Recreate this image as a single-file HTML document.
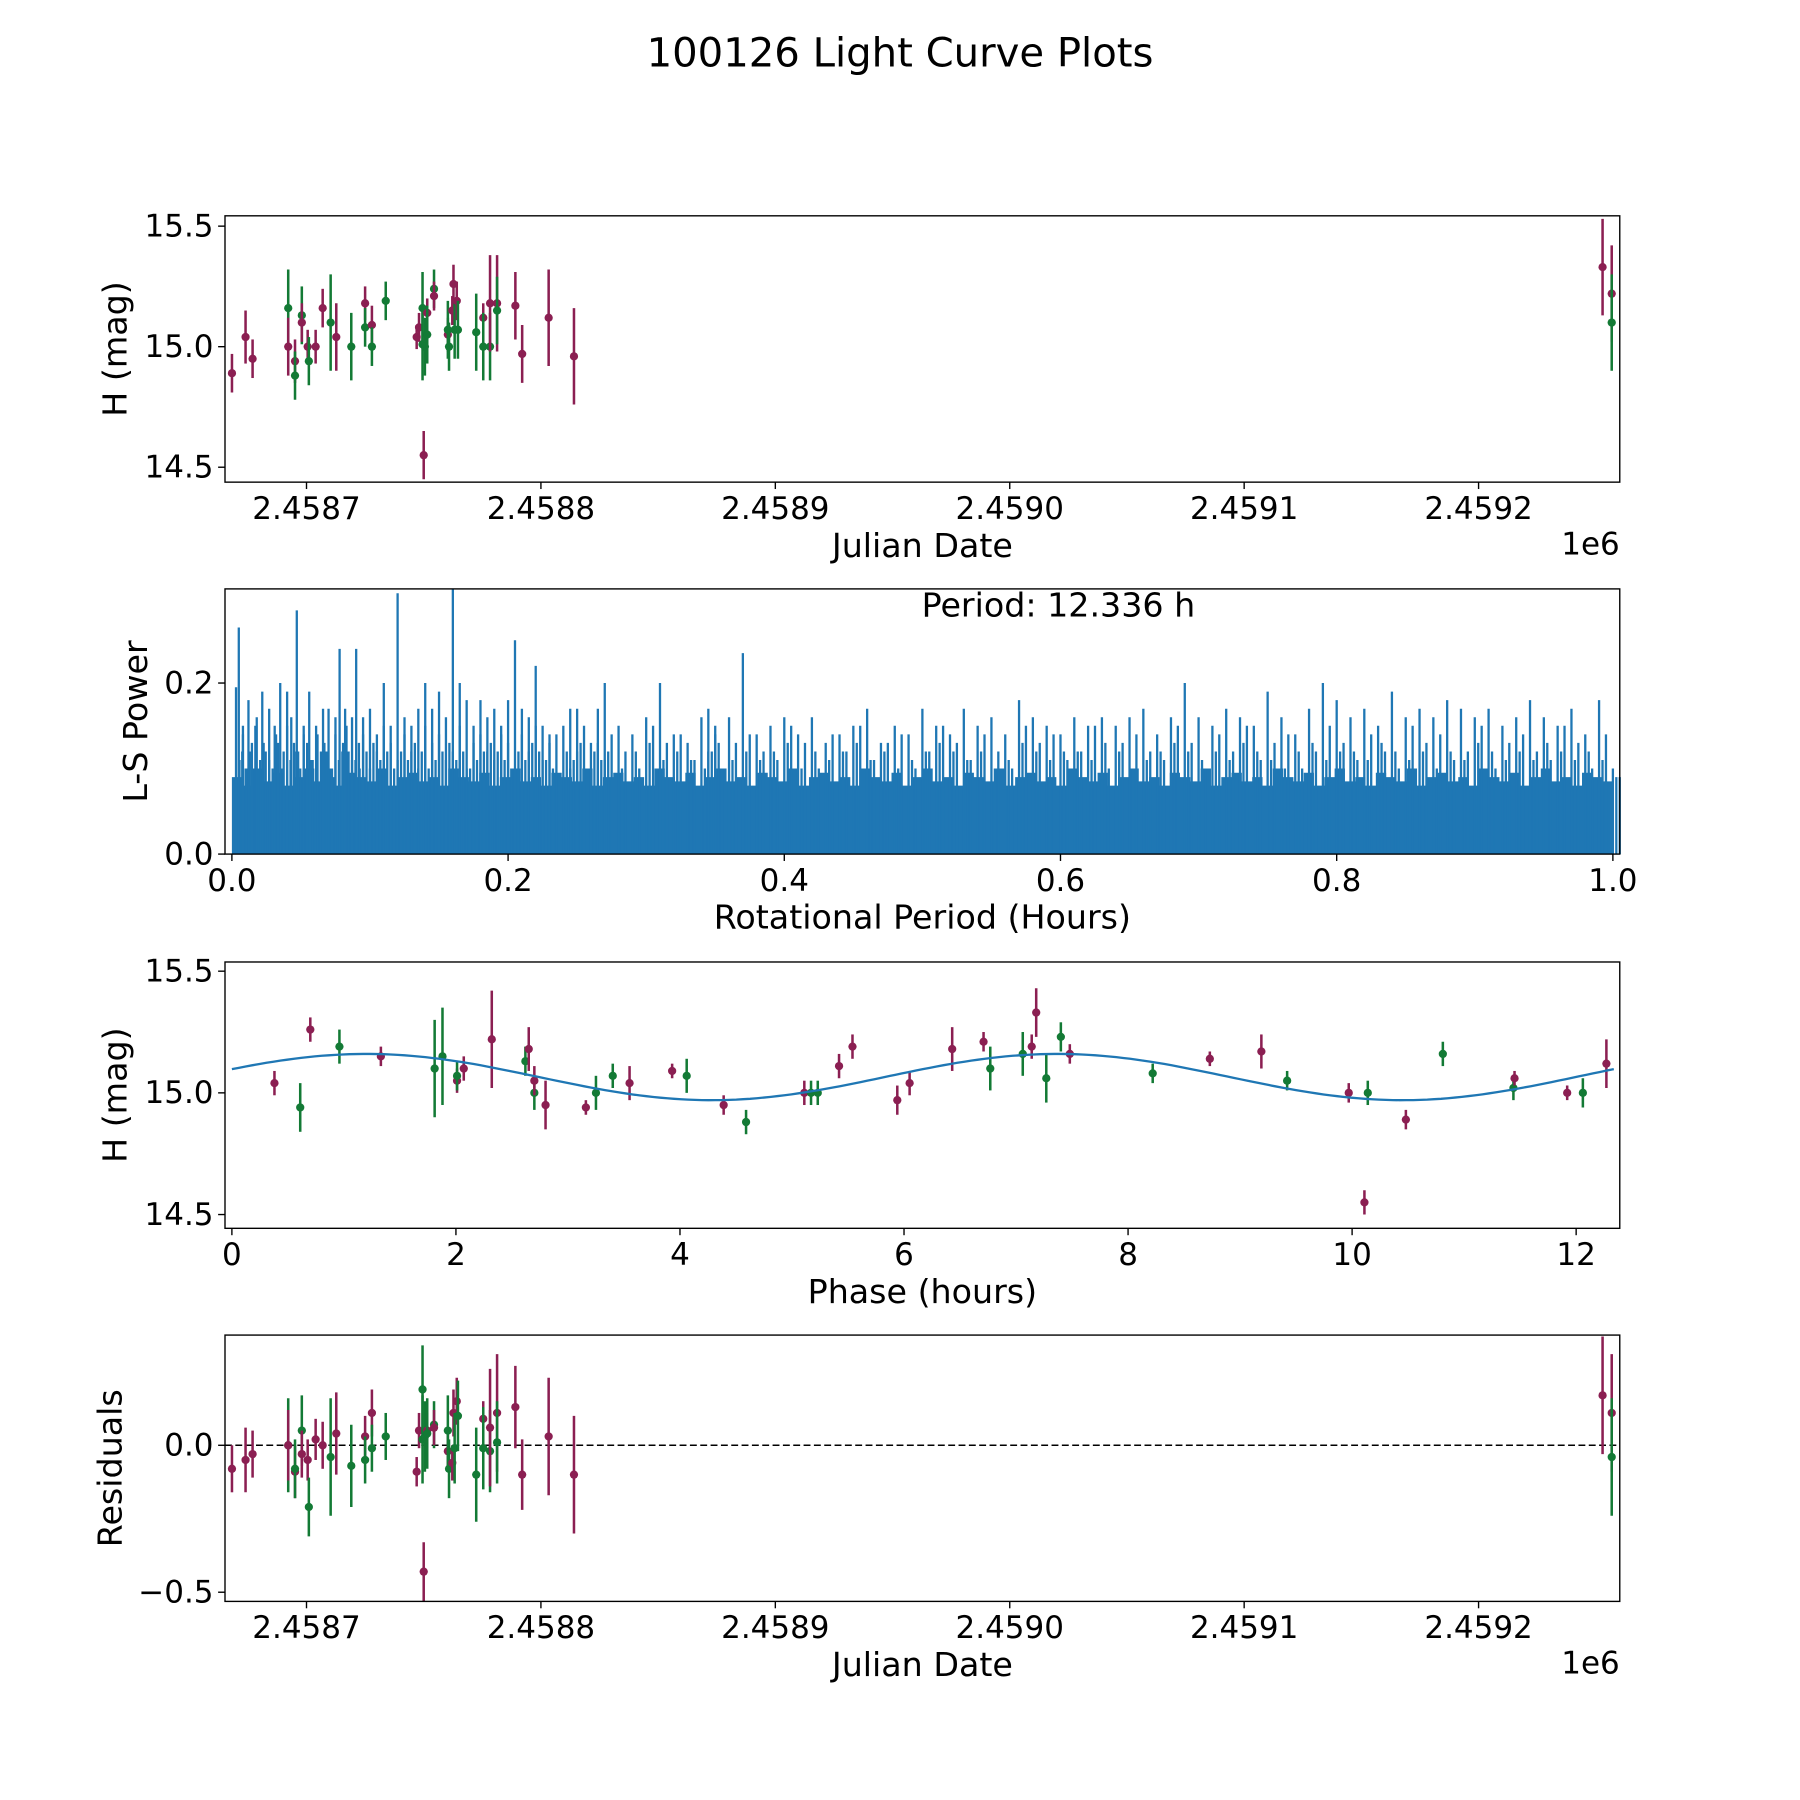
<!DOCTYPE html>
<html><head><meta charset="utf-8"><style>
html,body{margin:0;padding:0;background:#fff;}
svg{display:block;font-family:"DejaVu Sans","Liberation Sans",sans-serif;}
</style></head><body>
<svg id="fig" width="1800" height="1800" viewBox="0 0 1568 1568" xmlns="http://www.w3.org/2000/svg">
<rect width="1568" height="1568" fill="#fff"/>
<text x="784" y="58" font-size="35" text-anchor="middle">100126 Light Curve Plots</text>
<g id="p1"></g>
<g id="p2"></g>
<g id="p3"></g>
<g id="p4"></g>
</svg>
<script>
// ---- data ----
const jdDates=[2458668.2,2458674.0,2458677.0,2458692.2,2458692.2,2458695.1,2458695.1,2458698.0,2458698.0,2458700.5,2458701.0,2458703.9,2458706.9,2458710.3,2458712.7,2458719.1,2458725.0,2458725.0,2458727.9,2458727.9,2458733.8,2458747.0,2458748.0,2458750.0,2458749.5,2458749.5,2458750.5,2458751.5,2458751.5,2458754.4,2458754.4,2458760.3,2458760.3,2458760.8,2458762.2,2458762.7,2458763.2,2458764.1,2458764.6,2458772.4,2458775.4,2458775.4,2458778.3,2458778.3,2458781.3,2458781.3,2458789.1,2458792.0,2458803.3,2458814.1,2459252.9,2459256.8,2459256.8];
const jdMags=[14.89,15.04,14.95,15.16,15.00,14.94,14.88,15.13,15.10,15.00,14.94,15.00,15.16,15.10,15.04,15.00,15.18,15.08,15.09,15.00,15.19,15.04,15.08,14.55,15.16,15.01,15.00,15.14,15.05,15.24,15.21,15.05,15.07,15.00,15.15,15.26,15.07,15.19,15.07,15.06,15.12,15.00,15.00,15.18,15.18,15.15,15.17,14.97,15.12,14.96,15.33,15.22,15.10];
const jdErrs=[0.08,0.11,0.08,0.16,0.12,0.09,0.10,0.12,0.08,0.07,0.10,0.07,0.08,0.20,0.14,0.14,0.07,0.08,0.08,0.08,0.08,0.05,0.06,0.10,0.15,0.15,0.12,0.06,0.12,0.08,0.06,0.07,0.12,0.10,0.06,0.08,0.12,0.08,0.12,0.16,0.06,0.14,0.14,0.20,0.20,0.14,0.14,0.12,0.20,0.20,0.20,0.20,0.20];
const jdColors=["m","m","m","g","m","m","g","g","m","m","g","m","m","g","m","g","m","g","m","g","g","m","m","m","g","g","g","m","g","g","m","m","g","g","m","m","g","m","g","g","m","g","g","m","m","g","m","m","m","m","m","m","g"];
const residVals=[-0.08,-0.05,-0.03,0.00,0.00,-0.09,-0.08,0.05,-0.03,-0.05,-0.21,0.02,0.00,-0.04,0.04,-0.07,0.03,-0.05,0.11,-0.01,0.03,-0.09,0.05,-0.43,0.19,0.02,0.03,0.05,0.04,0.07,0.06,-0.02,0.05,-0.08,-0.06,0.11,-0.01,0.15,0.10,-0.10,0.09,-0.01,-0.02,0.06,0.11,0.01,0.13,-0.10,0.03,-0.10,0.17,0.11,-0.04];
const phaseVals=[0.38,0.61,0.70,0.96,1.33,1.81,1.88,2.01,2.01,2.07,2.32,2.62,2.65,2.70,2.70,2.80,3.16,3.25,3.40,3.55,3.93,4.06,4.39,4.59,5.11,5.17,5.23,5.42,5.54,5.94,6.05,6.43,6.71,6.77,7.06,7.14,7.18,7.27,7.40,7.48,8.22,8.73,9.19,9.42,9.97,10.11,10.14,10.48,10.81,11.44,11.45,11.92,12.06,12.27];
const phaseMags=[15.04,14.94,15.26,15.19,15.15,15.10,15.15,15.05,15.07,15.10,15.22,15.13,15.18,15.00,15.05,14.95,14.94,15.00,15.07,15.04,15.09,15.07,14.95,14.88,15.00,15.00,15.00,15.11,15.19,14.97,15.04,15.18,15.21,15.10,15.16,15.19,15.33,15.06,15.23,15.16,15.08,15.14,15.17,15.05,15.00,14.55,15.00,14.89,15.16,15.02,15.06,15.00,15.00,15.12];
const phaseErrs=[0.05,0.10,0.05,0.07,0.04,0.20,0.20,0.05,0.06,0.05,0.20,0.06,0.09,0.07,0.06,0.10,0.03,0.07,0.05,0.07,0.03,0.07,0.04,0.05,0.05,0.05,0.05,0.05,0.05,0.06,0.05,0.09,0.04,0.09,0.09,0.05,0.10,0.10,0.06,0.04,0.04,0.03,0.07,0.04,0.04,0.05,0.05,0.04,0.05,0.05,0.03,0.03,0.06,0.10];
const phaseColors=["m","g","m","g","m","g","g","m","g","m","m","g","m","g","m","m","m","g","g","m","m","g","m","g","m","g","g","m","m","m","m","m","m","g","g","m","m","g","g","m","g","m","m","g","m","m","g","m","g","g","m","m","g","m"];
const modelMean=15.065, modelAmp=0.095, modelPeriod=6.168, modelPeak=1.2;
const peakPeriods=[0.003,0.005,0.008,0.012,0.018,0.022,0.027,0.031,0.035,0.04,0.043,0.047,0.052,0.056,0.062,0.066,0.07,0.075,0.078,0.082,0.087,0.09,0.095,0.1,0.105,0.11,0.115,0.12,0.125,0.13,0.135,0.14,0.145,0.15,0.155,0.16,0.165,0.17,0.175,0.18,0.185,0.19,0.195,0.2,0.205,0.21,0.215,0.22,0.225,0.23,0.24,0.245,0.25,0.26,0.265,0.27,0.28,0.29,0.3,0.31,0.32,0.33,0.34,0.345,0.35,0.36,0.37,0.38,0.39,0.4,0.41,0.42,0.43,0.44,0.45,0.46,0.47,0.48,0.49,0.5,0.51,0.52,0.53,0.54,0.55,0.56,0.57,0.58,0.59,0.6,0.61,0.62,0.63,0.64,0.65,0.66,0.67,0.68,0.69,0.7,0.71,0.72,0.73,0.74,0.75,0.76,0.77,0.78,0.79,0.8,0.81,0.82,0.83,0.84,0.85,0.86,0.87,0.88,0.89,0.9,0.91,0.92,0.93,0.94,0.95,0.96,0.97,0.98,0.99,1.0];
const peakPowers=[.195,.265,.15,.18,.16,.19,.17,.15,.20,.19,.16,.285,.15,.19,.14,.17,.17,.16,.24,.17,.16,.24,.16,.17,.14,.20,.15,.305,.16,.15,.17,.20,.17,.19,.16,.31,.20,.18,.15,.18,.16,.17,.14,.18,.25,.17,.16,.22,.15,.14,.15,.17,.17,.13,.17,.20,.15,.14,.16,.20,.14,.13,.16,.17,.14,.16,.235,.14,.15,.16,.14,.16,.13,.14,.15,.17,.13,.15,.14,.17,.15,.14,.17,.15,.16,.14,.18,.16,.15,.14,.16,.15,.16,.15,.16,.17,.14,.16,.20,.16,.15,.17,.16,.15,.19,.16,.14,.17,.20,.18,.16,.17,.15,.19,.16,.17,.16,.18,.17,.16,.17,.15,.16,.18,.16,.15,.17,.14,.18,.10];
const midPowers=[.11,.12,.10,.13,.11,.12,.10,.13,.12,.11,.12,.10,.13,.11,.12,.12,.10,.11,.13,.12,.11,.10,.12,.13,.11,.12,.10,.12,.11,.13,.12,.10,.11,.12,.13,.11,.12,.10,.11,.12,.13,.12,.11,.10,.12,.11,.13,.12,.11,.10,.12,.11,.13,.12,.11,.12,.10,.12,.13,.11,.12,.11,.10,.12,.13,.11,.12,.11,.12,.13,.10,.12,.11,.12,.13,.11,.12,.10,.11,.12,.13,.12,.11,.12,.10,.11,.13,.12,.11,.12,.12,.11,.13,.12,.10,.11,.12,.13,.12,.11,.12,.11,.13,.12,.11,.10,.12,.13,.11,.12,.12,.11,.13,.12,.11,.12,.10,.12,.11,.13,.12,.11,.12,.11,.13,.12,.11,.12,.11,.09];
const lowPowers=[.14,.10,.12,.15,.13,.11,.14,.10,.15,.13,.12,.14,.11,.15,.13,.10,.14,.12,.15,.11,.13,.14,.10,.12,.15,.13,.11,.14,.12,.10,.15,.13,.14,.11,.12,.15,.10,.13,.14,.12,.11,.15,.13,.10,.14,.12,.15,.11,.13,.14,.10,.12,.15,.13,.11,.14,.12,.10,.15,.13,.14,.11,.12,.15,.10,.13,.14,.12,.11,.15,.13,.10,.14,.12,.15,.11,.13,.14,.10,.12,.15,.13,.11,.14,.12,.10,.15,.13,.14,.11,.12,.15,.10,.13,.14,.12,.11,.15,.13,.10,.14,.12,.15,.11,.13,.14,.10,.12,.15,.13,.11,.14,.12,.10,.15,.13,.14,.11,.12,.15,.10,.13,.14,.12,.11,.15,.13,.10,.14,.09];
const bandPowers=[.09,.08,.10,.085,.095,.08,.09,.10,.085,.09,.08,.095,.09,.085,.10,.08,.09,.095,.085,.09,.08,.10,.09,.085,.095,.08,.09,.10,.085,.09,.08,.095,.09,.085,.10,.08,.09,.095,.085,.09,.08,.10,.09,.085,.095,.08,.09,.10,.085,.09,.08,.095,.09,.085,.10,.08,.09,.095,.085,.09,.08,.10,.09,.085,.095,.08,.09,.10,.085,.09,.08,.095,.09,.085,.10,.08,.09,.095,.085,.09,.08,.10,.09,.085,.095,.08,.09,.10,.085,.09,.08,.095,.09,.085,.10,.08,.09,.095,.085,.09,.08,.10,.09,.085,.095,.08,.09,.10,.085,.09,.08,.095,.09,.085,.10,.08,.09,.095,.085,.09,.08,.10,.09,.085,.095,.08,.09,.10,.085,.09,.08,.095,.09,.085];
const jdTicks=[2458700,2458800,2458900,2459000,2459100,2459200];
const jdTickLabels=["2.4587","2.4588","2.4589","2.4590","2.4591","2.4592"];
const magTicks=[15.5,15.0,14.5];
const magTickLabels=["15.5","15.0","14.5"];
const lsXTicks=[0,0.2,0.4,0.6,0.8,1.0];
const lsXTickLabels=["0.0","0.2","0.4","0.6","0.8","1.0"];
const lsYTicks=[0,0.2];
const lsYTickLabels=["0.0","0.2"];
const phTicks=[0,2,4,6,8,10,12];
const phTickLabels=["0","2","4","6","8","10","12"];
const resTicks=[0,-0.5];
const resTickLabels=["0.0","\u22120.5"];

const NS="http://www.w3.org/2000/svg";
const COL={m:"#8b1f52",g:"#137a35"};
function mk(parent,tag,attrs,text){const e=document.createElementNS(NS,tag);for(const k in attrs)e.setAttribute(k,attrs[k]);if(text!==undefined)e.textContent=text;parent.appendChild(e);return e;}
function lin(d0,d1,r0,r1){return v=>r0+(v-d0)/(d1-d0)*(r1-r0);}
const L=196,R=1411;
const TF=27, AF=29;

function axesFrame(g,top,bot,sx,sy,xt,xtl,yt,ytl,xlab,ylab,ylabX,offset){
  for(let i=0;i<xt.length;i++){const x=sx(xt[i]);
    const t=mk(g,"line",{x1:x,x2:x,y1:bot,y2:bot+6,stroke:"#000","stroke-width":1.2});
    
    
    const l=mk(g,"text",{x:x,y:bot+32,"font-size":TF,"text-anchor":"middle"},xtl[i]);
    
    }
  for(let i=0;i<yt.length;i++){const y=sy(yt[i]);
    const t=mk(g,"line",{x1:L-6,x2:L,y1:y,y2:y,stroke:"#000","stroke-width":1.2});
    
    
    const l=mk(g,"text",{x:L-10,y:y+9,"font-size":TF,"text-anchor":"end"},ytl[i]);
    
    }
  const fr=mk(g,"rect",{x:L,y:top,width:R-L,height:bot-top,fill:"none",stroke:"#000","stroke-width":1.2});
  
  
  const xl=mk(g,"text",{x:(L+R)/2,y:bot+65,"font-size":AF,"text-anchor":"middle"},xlab);
  
  
  const cy=(top+bot)/2;
  const yl=mk(g,"text",{x:ylabX,y:cy,"font-size":AF,"text-anchor":"middle",transform:`rotate(-90 ${ylabX} ${cy})`},ylab);
  
  
  if(offset){const o=mk(g,"text",{x:R,y:bot+63,"font-size":TF,"text-anchor":"end"},offset);
    
    }
}
let clipN=0;
function errPoints(g,xs,ys,es,cs,sx,sy,top,bot){
  const cp="clip"+(clipN++);
  const d=mk(g,"clipPath",{id:cp});mk(d,"rect",{x:L,y:top,width:R-L,height:bot-top});
  const gg=mk(g,"g",{"clip-path":`url(#${cp})`});
  for(let i=0;i<xs.length;i++){const x=sx(xs[i]),c=COL[cs[i]];
    const b=mk(gg,"line",{x1:x,x2:x,y1:sy(ys[i]-es[i]),y2:sy(ys[i]+es[i]),stroke:c,"stroke-width":2.2});
    
    
    const p=mk(gg,"circle",{cx:x,cy:sy(ys[i]),r:3.6,fill:c});
    
    }
}

// Panel 1
(function(){const g=document.getElementById('p1');const top=188,bot=420;
 const sx=lin(2458700,2458800,267,471.2), sy=lin(15.0,15.5,302,197);
 errPoints(g,jdDates,jdMags,jdErrs,jdColors,sx,sy,top,bot);
 axesFrame(g,top,bot,sx,sy,jdTicks,jdTickLabels,magTicks,magTickLabels,"Julian Date","H (mag)",110,"1e6");})();

// Panel 2
(function(){const g=document.getElementById('p2');const top=513,bot=744;
 const sx=lin(0,1,202,1405), sy=lin(0,0.2,744,595);
 const blue="#1f77b4";
 let d="M"+sx(0)+","+sy(0);
 for(let i=0;i<bandPowers.length;i++){const x0=sx(i/bandPowers.length),x1=sx((i+1)/bandPowers.length);d+=`L${x0.toFixed(1)},${sy(bandPowers[i]).toFixed(1)}L${x1.toFixed(1)},${sy(bandPowers[i]).toFixed(1)}`;}
 d+="L"+sx(1)+","+sy(0)+"Z";
 const band=mk(g,"path",{d:d,fill:blue});
 
 
 for(let i=0;i<peakPeriods.length;i++){
   const x=sx(peakPeriods[i]);
   const s=mk(g,"line",{x1:x,x2:x,y1:sy(0),y2:sy(peakPowers[i]),stroke:blue,"stroke-width":2});
   
   
   const x2=x+3;
   const m=mk(g,"line",{x1:x2,x2:x2,y1:sy(0),y2:sy(midPowers[i]),stroke:blue,"stroke-width":2});
   
   
   const x3=x+6;
   const n=mk(g,"line",{x1:x3,x2:x3,y1:sy(0),y2:sy(lowPowers[i]),stroke:blue,"stroke-width":2});
   
   
 }
 axesFrame(g,top,bot,sx,sy,lsXTicks,lsXTickLabels,lsYTicks,lsYTickLabels,"Rotational Period (Hours)","L-S Power",128,null);
 const pt=mk(g,"text",{x:922,y:537,"font-size":AF,"text-anchor":"middle"},"Period: 12.336 h");
 
 })();

// Panel 3
(function(){const g=document.getElementById('p3');const top=838,bot=1070;
 const sx=lin(0,12,202,1373), sy=lin(15.0,15.5,952,846);
 errPoints(g,phaseVals,phaseMags,phaseErrs,phaseColors,sx,sy,top,bot);
 let d="";for(let k=0;k<=200;k++){const p=k/200*12.336;const v=modelMean+modelAmp*Math.cos(2*Math.PI*(p-modelPeak)/modelPeriod);d+=(k?"L":"M")+sx(p).toFixed(1)+","+sy(v).toFixed(1);}
 const c=mk(g,"path",{d:d,fill:"none",stroke:"#1f77b4","stroke-width":2});
 
 
 axesFrame(g,top,bot,sx,sy,phTicks,phTickLabels,magTicks,magTickLabels,"Phase (hours)","H (mag)",110,null);})();

// Panel 4
(function(){const g=document.getElementById('p4');const top=1163,bot=1395;
 const sx=lin(2458700,2458800,267,471.2), sy=lin(0,-0.5,1259,1387);
 const z=mk(g,"line",{x1:L,x2:R,y1:sy(0),y2:sy(0),stroke:"#000","stroke-width":1.3,"stroke-dasharray":"6,3"});
 
 
 errPoints(g,jdDates,residVals,jdErrs,jdColors,sx,sy,top,bot);
 axesFrame(g,top,bot,sx,sy,jdTicks,jdTickLabels,resTicks,resTickLabels,"Julian Date","Residuals",106,"1e6");})();
</script>
</body></html>
